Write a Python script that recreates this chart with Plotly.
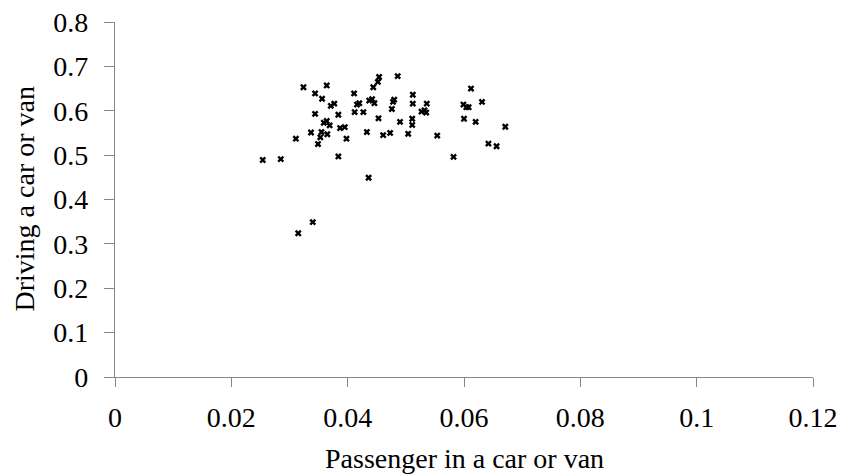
import plotly.graph_objects as go

# Data
passenger = [
    0.0254, 0.0285, 0.0311, 0.0337, 0.0349, 0.0353, 0.0355, 0.0365, 0.0344, 0.0359,
    0.0364, 0.0369, 0.0324, 0.0344, 0.0356, 0.0364, 0.0371, 0.0377, 0.0384, 0.0387,
    0.0395, 0.0398, 0.0384, 0.0411, 0.0416, 0.0420, 0.0412, 0.0427, 0.0433, 0.0436,
    0.0454, 0.0452, 0.0444, 0.0437, 0.0442, 0.0446, 0.0453, 0.0461, 0.0473, 0.0480,
    0.0478, 0.0476, 0.0490, 0.0486, 0.0512, 0.0512, 0.0536, 0.0527, 0.0532, 0.0535,
    0.0511, 0.0511, 0.0504, 0.0554, 0.0582, 0.0612, 0.0631, 0.0599, 0.0604, 0.0608,
    0.0600, 0.0620, 0.0671, 0.0642, 0.0656, 0.0340, 0.0315,
]
driving = [
    0.489, 0.491, 0.537, 0.551, 0.525, 0.540, 0.552, 0.547, 0.593, 0.573,
    0.577, 0.567, 0.653, 0.639, 0.627, 0.657, 0.611, 0.616, 0.591, 0.561,
    0.563, 0.537, 0.497, 0.639, 0.614, 0.617, 0.597, 0.597, 0.552, 0.449,
    0.676, 0.665, 0.653, 0.623, 0.626, 0.617, 0.583, 0.545, 0.550, 0.625,
    0.620, 0.604, 0.575, 0.678, 0.636, 0.616, 0.616, 0.598, 0.601, 0.596,
    0.582, 0.568, 0.548, 0.544, 0.496, 0.650, 0.620, 0.614, 0.608, 0.608,
    0.582, 0.575, 0.564, 0.526, 0.520, 0.349, 0.324,
]

x_tickvals = [0, 0.02, 0.04, 0.06, 0.08, 0.1, 0.12]
x_ticktext = ["0", "0.02", "0.04", "0.06", "0.08", "0.1", "0.12"]
y_tickvals = [0, 0.1, 0.2, 0.3, 0.4, 0.5, 0.6, 0.7, 0.8]
y_ticktext = ["0", "0.1", "0.2", "0.3", "0.4", "0.5", "0.6", "0.7", "0.8"]

x_title = "Passenger in a car or van"
y_title = "Driving a car or van"

FONT = "Liberation Serif"
FS = 28
AXIS_COLOR = "#888888"

fig = go.Figure()
fig.add_trace(go.Scatter(
    x=passenger, y=driving, mode="markers",
    marker=dict(symbol="x", size=6, color="black", line=dict(width=0)),
    showlegend=False, hoverinfo="x+y",
))

fig.update_layout(
    width=841, height=475,
    margin=dict(l=115, r=28, t=22, b=98, autoexpand=False),
    paper_bgcolor="white", plot_bgcolor="white",
    font=dict(family=FONT, size=FS, color="black"),
    xaxis=dict(
        range=[0, 0.12], tickvals=x_tickvals, ticktext=x_ticktext,
        showgrid=False, zeroline=False, showline=True,
        linecolor=AXIS_COLOR, linewidth=1.3,
        ticks="outside", ticklen=9, tickcolor=AXIS_COLOR, tickwidth=1.3,
        tickfont=dict(family=FONT, size=FS, color="black"),
        ticklabelstandoff=6,
        fixedrange=True,
    ),
    yaxis=dict(
        range=[0, 0.8], tickvals=y_tickvals, ticktext=y_ticktext,
        showgrid=False, zeroline=False, showline=True,
        linecolor=AXIS_COLOR, linewidth=1.3,
        ticks="outside", ticklen=10, tickcolor=AXIS_COLOR, tickwidth=1.3,
        tickfont=dict(family=FONT, size=FS, color="black"),
        ticklabelstandoff=10,
        fixedrange=True,
    ),
    annotations=[
        dict(text=x_title, xref="paper", yref="paper", x=0.5, y=0,
             xanchor="center", yanchor="middle", yshift=-81, showarrow=False,
             font=dict(family=FONT, size=FS, color="black")),
        dict(text=y_title, xref="paper", yref="paper", x=0, y=0.5,
             xanchor="center", yanchor="middle", xshift=-91, textangle=-90,
             showarrow=False,
             font=dict(family=FONT, size=FS, color="black")),
    ],
)

fig.write_html(
    "out.html",
    config={"displayModeBar": False},
    post_script="document.body.style.margin='0';document.body.style.overflow='hidden';",
)
